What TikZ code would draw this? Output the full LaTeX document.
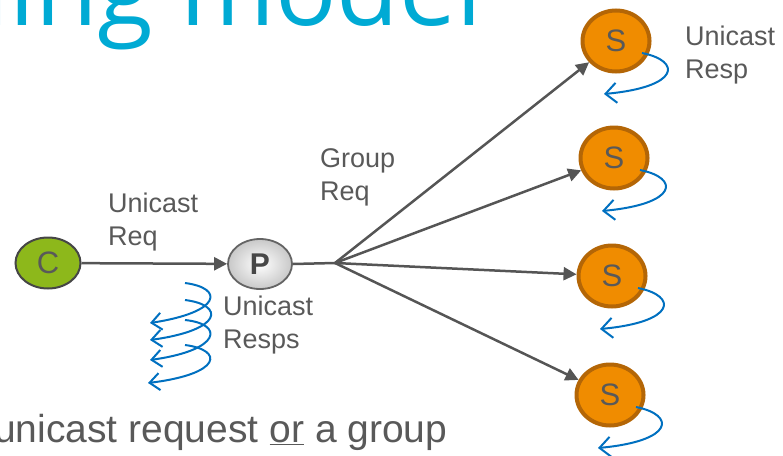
\documentclass[tikz,border=0pt]{standalone}
\usepackage{fontspec}
\setmainfont{Liberation Sans}
\newfontfamily\titlefont{Open Sans}
\usetikzlibrary{arrows.meta,shapes.geometric}
\definecolor{txtgray}{RGB}{89,89,89}
\definecolor{linegray}{RGB}{85,85,85}
\definecolor{titlecyan}{RGB}{0,170,212}
\definecolor{cgreen}{RGB}{141,184,27}
\definecolor{cborder}{RGB}{70,70,70}
\definecolor{pborder}{RGB}{100,100,100}
\definecolor{pshade}{RGB}{200,200,200}
\definecolor{sorange}{RGB}{240,140,0}
\definecolor{sborder}{RGB}{180,102,6}
\definecolor{curlblue}{RGB}{0,112,192}
\begin{document}
\begin{tikzpicture}[x=1pt,y=-1pt,
  lbl/.style={anchor=base west, inner sep=0, text=txtgray, align=left,
    font=\fontsize{27}{33}\selectfont},
  cnode/.style={ellipse, draw=cborder, line width=2pt, fill=cgreen, text=txtgray,
    minimum width=65pt, minimum height=51pt, inner sep=0, font=\fontsize{31}{31}\selectfont},
  pnode/.style={ellipse, draw=pborder, line width=1.8pt, inner color=white, outer color=pshade,
    text=txtgray!80!black, minimum width=64pt, minimum height=50pt, inner sep=0,
    font=\fontsize{30}{30}\selectfont\bfseries},
  snode/.style={ellipse, draw=sborder, line width=4pt, fill=sorange, text=txtgray,
    minimum width=67pt, minimum height=61pt, inner sep=0, font=\fontsize{31}{31}\selectfont},
  gline/.style={draw=linegray, line width=2.5pt},
  garrow/.style={gline, -{Triangle[length=13pt,width=13pt]}},
  curl/.style={draw=curlblue, line width=2pt, -{Straight Barb[length=11pt,width=20pt]}},
  smallcurl/.style={draw=curlblue, line width=2pt, -{Straight Barb[length=10pt,width=17pt]}}
]
\useasboundingbox (0,0) rectangle (783,455);
\clip (0,0) rectangle (783,455);

% title (cut off at the top)
\node[anchor=base west, inner sep=0, text=titlecyan,
  font=\titlefont\fontsize{102}{102}\selectfont] (title) at (-16.5,25) {ling model};

% body text
\node[anchor=base west, inner sep=0, text=txtgray,
  font=\fontsize{39}{39}\selectfont] (body) at (-6,442) {unicast request \underline{or} a group};

% nodes
\node[cnode] (c) at (48,263) {C};
\node[pnode] (p) at (260,264) {P};
\coordinate (b) at (335,263);
\node[snode] (s1) at (616,41) {S};
\node[snode] (s2) at (614,158) {S};
\node[snode] (s3) at (612,276) {S};
\node[snode] (s4) at (610,395) {S};

% connectors
\draw[garrow] (c) -- (p);
\draw[gline] (p.east) -- (b);
\foreach \s in {s1,s2,s3,s4} \draw[garrow] (b) -- (\s);

% labels (base = baseline of the last line)
\node[lbl] (lreq) at (108,245) {Unicast\\Req};
\node[lbl] (lgroup) at (320,200) {Group\\Req};
\node[lbl] (lresp) at (685,78) {Unicast\\Resp};
\node[lbl] (lresps) at (223,348) {Unicast\\Resps};

% response curls at the servers
\foreach \s in {s1,s2,s3,s4}
  \draw[curl] ([shift={(26,12)}]\s.center) .. controls ([shift={(66,20)}]\s.center)
    and ([shift={(64,46)}]\s.center) .. ([shift={(-12,53)}]\s.center);

% unicast response curls below P
\draw[smallcurl] (185,283) .. controls (224,288) and (222,312) .. (150,323);
\draw[smallcurl] (185,300) .. controls (225,305) and (223,330) .. (150,340);
\draw[smallcurl] (185,320) .. controls (224,324) and (222,350) .. (150,360);
\draw[smallcurl] (185,345) .. controls (224,350) and (222,374) .. (148,383);
\end{tikzpicture}
\end{document}
